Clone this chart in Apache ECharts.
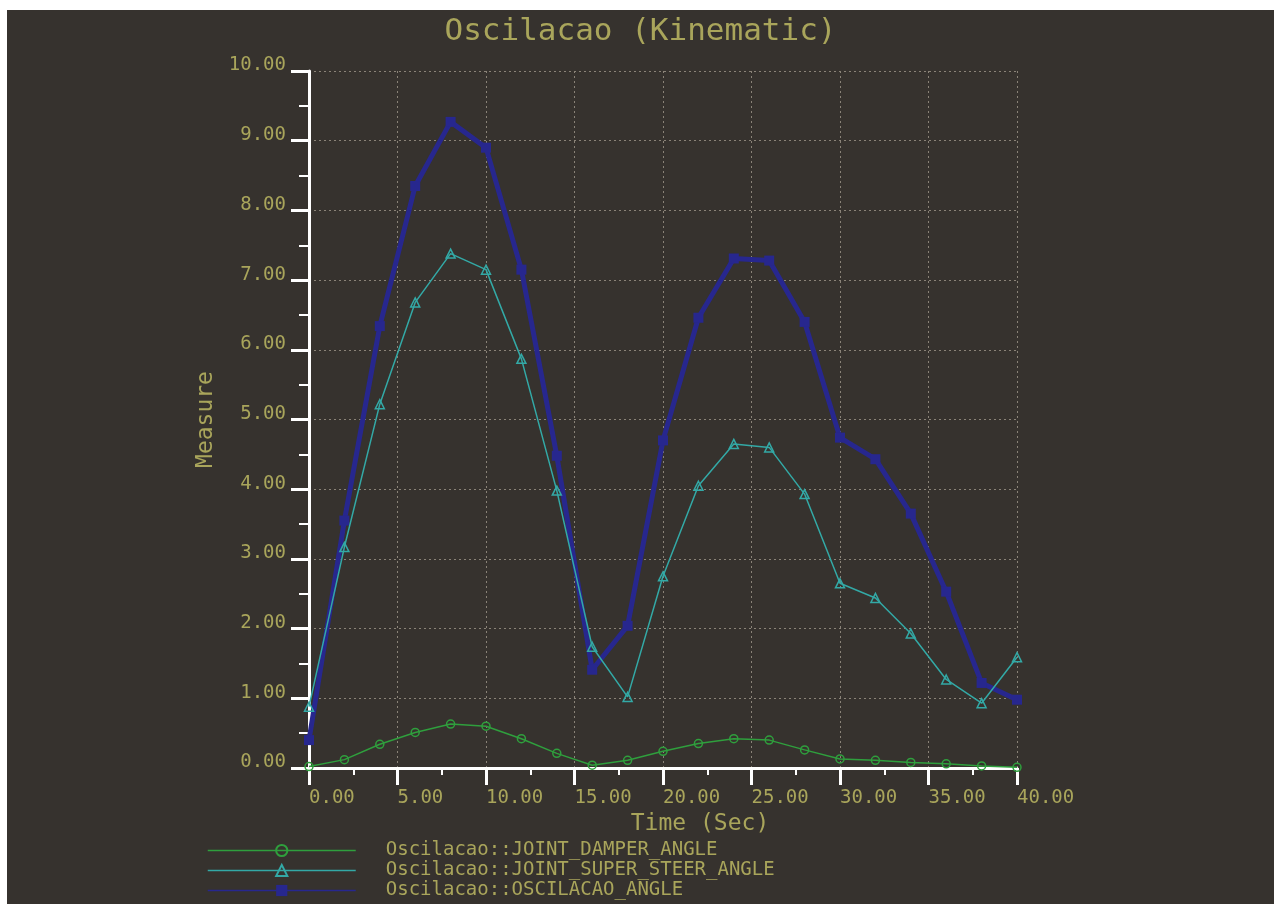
<!DOCTYPE html>
<html>
<head>
<meta charset="utf-8">
<title>Oscilacao (Kinematic)</title>
<script src="https://cdn.jsdelivr.net/npm/echarts@6/dist/echarts.min.js"></script>
<style>
  html, body { margin: 0; padding: 0; background: #ffffff; }
  #chart { position: absolute; left: 7px; top: 10px; width: 1267px; height: 894px; }
</style>
</head>
<body>
<div id="chart"></div>
<script>
  // 采样时间 (Sec)
  const times = [0, 2, 4, 6, 8, 10, 12, 14, 16, 18, 20, 22, 24, 26, 28, 30, 32, 34, 36, 38, 40]

  const damperAngle = [0.02, 0.12, 0.34, 0.51, 0.63, 0.60, 0.42, 0.21, 0.04, 0.11, 0.24,
    0.35, 0.42, 0.40, 0.26, 0.13, 0.11, 0.08, 0.06, 0.03, 0.01]
  const superSteerAngle = [0.88, 3.17, 5.22, 6.68, 7.38, 7.15, 5.87, 3.98, 1.74, 1.02, 2.75,
    4.05, 4.65, 4.60, 3.93, 2.65, 2.44, 1.93, 1.27, 0.93, 1.59]
  const oscilacaoAngle = [0.40, 3.55, 6.34, 8.35, 9.27, 8.90, 7.15, 4.48, 1.41, 2.04, 4.70,
    6.46, 7.31, 7.28, 6.40, 4.74, 4.43, 3.65, 2.53, 1.22, 0.98]

  const seriesNames = [
    'Oscilacao::JOINT_DAMPER_ANGLE',
    'Oscilacao::JOINT_SUPER_STEER_ANGLE',
    'Oscilacao::OSCILACAO_ANGLE'
  ]

  const textColor = '#a9a55b'
  const font = 'DejaVu Sans Mono'
  const green = '#2f9f3d'
  const teal = '#33a9a6'
  const navy = '#27278e'

  const pairs = (vals) => times.map((t, i) => [t, vals[i]])

  const splitLine = {
    show: true,
    lineStyle: { color: '#8a8378', width: 1, type: [2, 3] }
  }
  const axisLine = { lineStyle: { color: '#ffffff', width: 3 }}

  const myChart = echarts.init(document.getElementById('chart'))
  myChart.setOption({
    backgroundColor: '#36322e',
    animation: false,
    title: {
      text: 'Oscilacao (Kinematic)',
      left: 'center',
      top: 5,
      padding: 0,
      textStyle: { color: textColor, fontFamily: font, fontWeight: 'normal', fontSize: 31, lineHeight: 34 }
    },
    legend: {
      orient: 'vertical',
      left: 200,
      top: 831,
      padding: 0,
      itemWidth: 148,
      itemHeight: 14,
      itemGap: 1,
      data: seriesNames,
      lineStyle: { width: 1.5 },
      textStyle: { color: textColor, fontFamily: font, fontSize: 19, lineHeight: 19, padding: [0, 0, 0, 25] }
    },
    grid: { left: 302, right: 257, top: 61, bottom: 136 },
    xAxis: {
      type: 'value',
      min: 0,
      max: 40,
      interval: 5,
      name: 'Time (Sec)',
      nameLocation: 'middle',
      nameGap: 40,
      nameTextStyle: { color: textColor, fontFamily: font, fontSize: 23, padding: [0, 0, 0, 74] },
      axisLabel: {
        color: textColor, fontFamily: font, fontSize: 19, margin: 21, align: 'left',
        formatter: (v) => v.toFixed(2)
      },
      axisLine: axisLine,
      axisTick: { length: 17, lineStyle: { color: '#ffffff', width: 3 }},
      minorTick: { show: true, splitNumber: 2, length: 7, lineStyle: { color: '#ffffff', width: 2 }},
      splitLine: splitLine
    },
    yAxis: {
      type: 'value',
      min: 0,
      max: 10,
      interval: 1,
      name: 'Measure',
      nameLocation: 'middle',
      nameGap: 84,
      nameRotate: 90,
      nameTextStyle: { color: textColor, fontFamily: font, fontSize: 23 },
      axisLabel: {
        color: textColor, fontFamily: font, fontSize: 19, margin: 23,
        verticalAlign: 'bottom', lineHeight: 11,
        formatter: (v) => v.toFixed(2)
      },
      axisLine: axisLine,
      axisTick: { length: 18, lineStyle: { color: '#ffffff', width: 3 }},
      minorTick: { show: true, splitNumber: 2, length: 10, lineStyle: { color: '#ffffff', width: 2 }},
      splitLine: splitLine
    },
    series: [
      {
        name: seriesNames[0],
        type: 'line',
        z: 3,
        data: pairs(damperAngle),
        symbol: 'circle',
        symbolSize: 8,
        lineStyle: { color: green, width: 1.5 },
        itemStyle: { color: 'rgba(0,0,0,0)', borderColor: green, borderWidth: 1.5 }
      },
      {
        name: seriesNames[1],
        type: 'line',
        z: 3,
        data: pairs(superSteerAngle),
        symbol: 'triangle',
        symbolSize: 9,
        lineStyle: { color: teal, width: 1.5 },
        itemStyle: { color: 'rgba(0,0,0,0)', borderColor: teal, borderWidth: 1.5 }
      },
      {
        name: seriesNames[2],
        type: 'line',
        z: 1,
        data: pairs(oscilacaoAngle),
        symbol: 'rect',
        symbolSize: 10,
        lineStyle: { color: navy, width: 5 },
        itemStyle: { color: navy }
      }
    ]
  })

  window.addEventListener('resize', () => {
    myChart.resize()
  })
</script>
</body>
</html>
